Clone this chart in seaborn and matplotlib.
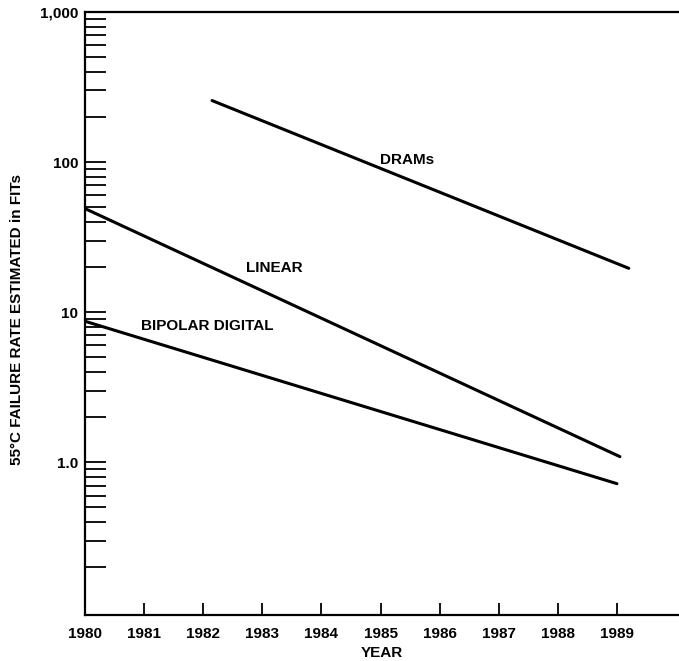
import matplotlib
matplotlib.use("Agg")
import matplotlib.pyplot as plt
import matplotlib.ticker as mticker
import numpy as np
import pandas as pd
import seaborn as sns

# ---- data ----
dram_years = [1982.15, 1989.2]
dram_fits = [257, 19.6]
linear_years = [1980.0, 1989.05]
linear_fits = [49, 1.09]
bipolar_years = [1980.0, 1989.0]
bipolar_fits = [8.7, 0.72]

series_names = ["DRAMs", "LINEAR", "BIPOLAR DIGITAL"]
label_years = [1985.45, 1983.21, 1982.06]
label_fits = [103, 19.7, 8.1]

x_ticks = list(range(1980, 1990))
y_ticks = [1, 10, 100, 1000]
y_ticklabels = ["1.0", "10", "100", "1,000"]

df = pd.concat([
    pd.DataFrame({"year": dram_years, "fit": dram_fits, "series": "DRAMs"}),
    pd.DataFrame({"year": linear_years, "fit": linear_fits, "series": "LINEAR"}),
    pd.DataFrame({"year": bipolar_years, "fit": bipolar_fits, "series": "BIPOLAR DIGITAL"}),
])

sns.set_theme(style="white")
plt.rcParams["font.family"] = ["Liberation Sans", "DejaVu Sans"]
plt.rcParams["font.weight"] = "bold"
plt.rcParams["text.color"] = "black"
plt.rcParams["axes.labelcolor"] = "black"
plt.rcParams["xtick.color"] = "black"
plt.rcParams["ytick.color"] = "black"

fig = plt.figure(figsize=(6.79, 6.61), dpi=100)
ax = fig.add_axes([85 / 679, 1 - 615 / 661, 1 - 85 / 679, (615 - 12) / 661])

sns.lineplot(data=df, x="year", y="fit", hue="series", units="series", estimator=None,
             palette={s: "black" for s in series_names}, linewidth=2.2,
             legend=False, ax=ax, sort=False)

ax.set_yscale("log")
ax.set_ylim(0.096, 1000)
ax.set_xlim(1980, 1990.05)

ax.set_yticks(y_ticks)
ax.set_yticklabels(y_ticklabels)
ax.yaxis.set_minor_locator(mticker.LogLocator(base=10, subs=np.arange(2, 10)))
ax.yaxis.set_minor_formatter(mticker.NullFormatter())
ax.set_xticks(x_ticks)
ax.set_xticklabels([str(y) for y in x_ticks])

ax.tick_params(axis="y", which="both", direction="in", length=15, width=1.3,
               color="black", labelcolor="black", labelsize=11, pad=5, left=True, right=False)
ax.tick_params(axis="x", which="both", direction="in", length=9, width=1.3,
               color="black", labelcolor="black", labelsize=11, pad=9, bottom=True, top=False)
for lab in ax.get_xticklabels() + ax.get_yticklabels():
    lab.set_fontweight("bold")

for side in ["left", "bottom", "top"]:
    ax.spines[side].set_visible(True)
    ax.spines[side].set_color("black")
    ax.spines[side].set_linewidth(1.6)
ax.spines["right"].set_visible(False)

for name, lx, ly in zip(series_names, label_years, label_fits):
    ax.text(lx, ly, name, ha="center", va="center", fontsize=11, fontweight="bold", color="black")

ax.set_xlabel("YEAR", fontsize=11, fontweight="bold", labelpad=3, color="black")
ax.set_ylabel("55°C FAILURE RATE ESTIMATED in FITs", fontsize=11, fontweight="bold", color="black")
ax.yaxis.set_label_coords(-0.102, 0.49)

fig.savefig("out.png", dpi=100)
